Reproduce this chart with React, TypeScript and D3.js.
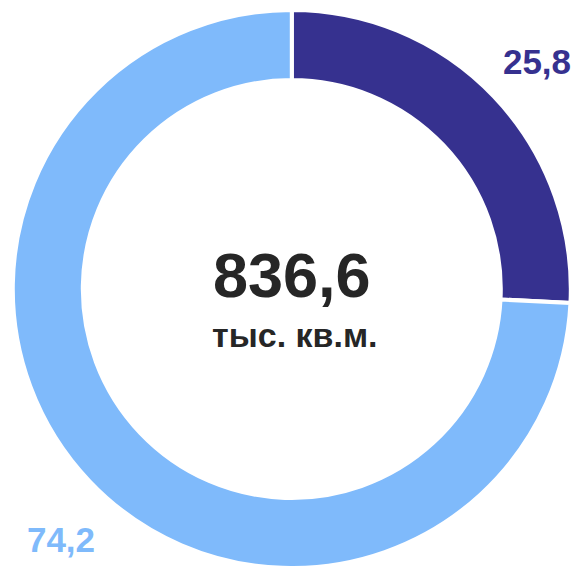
import React from "react";
import * as d3 from "d3";

const categories = ["A", "B"];
const values = [25.8, 74.2];
const valueLabels = ["25,8", "74,2"];
const totalLabel = "836,6";
const unitLabel = "тыс. кв.м.";
const colors = ["#36318F", "#7FBAFB"];

export default function App() {
  const W = 577, H = 566;
  const cx = 291.8, cy = 289;
  const outerR = 279, innerR = 209;
  const pie = d3.pie<number>().sort(null).startAngle(0).endAngle(2 * Math.PI);
  const arcs = pie(values);
  const arc = d3.arc<d3.PieArcDatum<number>>().innerRadius(innerR).outerRadius(outerR);
  const font = "'Liberation Sans', Arial, sans-serif";
  const labelPos = [
    { x: 537, y: 74 },
    { x: 61, y: 552 },
  ];
  return (
    <svg width={W} height={H} style={{ position: "absolute", left: 0, top: 0 }}>
      <g transform={`translate(${cx},${cy})`}>
        {arcs.map((a, i) => (
          <path key={categories[i]} d={arc(a) || ""} fill={colors[i]} stroke="#fff" strokeWidth={4} />
        ))}
        <text x={0} y={8} textAnchor="middle" fontFamily={font} fontWeight="bold" fontSize={63} fill="#262626">
          {totalLabel}
        </text>
        <text x={3} y={58} textAnchor="middle" fontFamily={font} fontWeight="bold" fontSize={34} fill="#262626">
          {unitLabel}
        </text>
      </g>
      {valueLabels.map((l, i) => (
        <text key={l} x={labelPos[i].x} y={labelPos[i].y} textAnchor="middle" fontFamily={font} fontWeight="bold" fontSize={35} fill={colors[i]}>
          {l}
        </text>
      ))}
    </svg>
  );
}
